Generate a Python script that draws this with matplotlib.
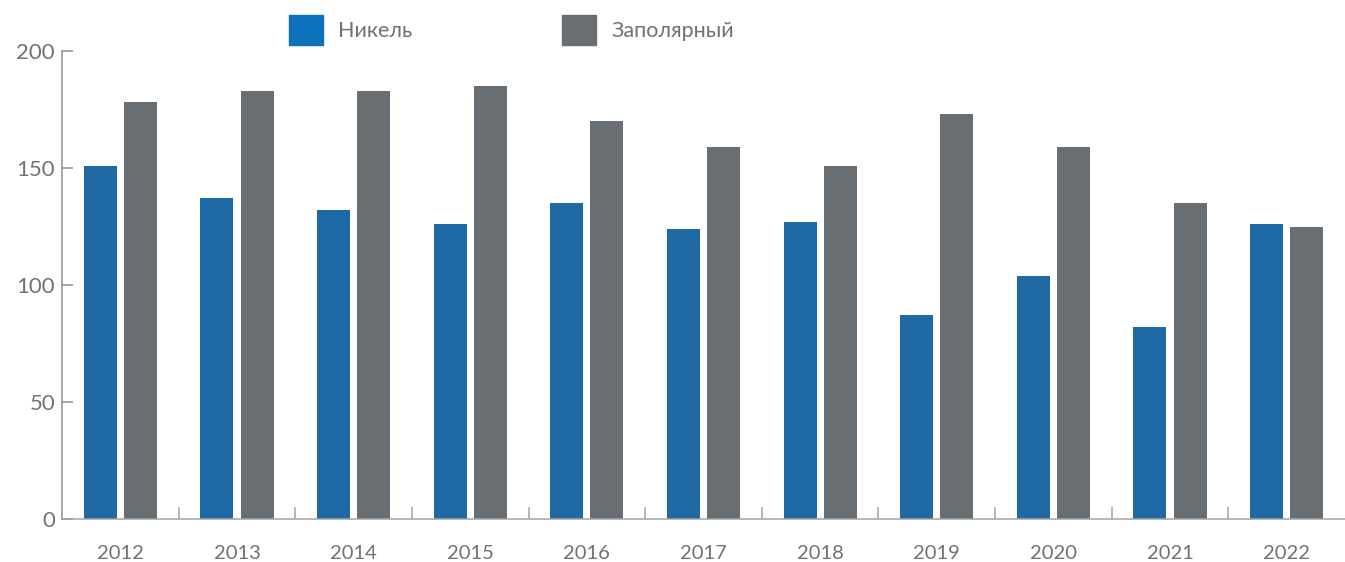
import matplotlib.pyplot as plt
import matplotlib.patches as patch
import numpy as np

# chart data
years = ["2012", "2013", "2014", "2015", "2016", "2017", "2018", "2019", "2020", "2021", "2022"]
nickel = [151, 137, 132, 126, 135, 124, 127, 87, 104, 82, 126]
zapolyarny = [178, 183, 183, 185, 170, 159, 151, 173, 159, 135, 125]
series_names = ["Никель", "Заполярный"]
yticks = [0, 50, 100, 150, 200]

blue = '#1f6aa5'
blue_legend = '#0d72bb'
grey = '#686e71'
text_grey = '#6d7377'

plt.rcParams['font.family'] = ['Lato', 'DejaVu Sans']

fig = plt.figure(figsize=(13.45, 5.62), dpi=100)
ax = fig.add_axes([62 / 1345, 43 / 562, 1283 / 1345, 468 / 562])

x = np.arange(len(years))
width = 0.283
offset = 0.172
ax.bar(x - offset, nickel, width=width, color=blue)
ax.bar(x + offset, zapolyarny, width=width, color=grey)

ax.set_xlim(-0.5, len(years) - 0.5)
ax.set_ylim(0, 200)

# spines
for side in ['top', 'right']:
    ax.spines[side].set_visible(False)
ax.spines['left'].set_color('#8a8f92')
ax.spines['bottom'].set_color('#a0a4a6')
ax.spines['left'].set_linewidth(1.1)
ax.spines['bottom'].set_linewidth(1.1)

# y ticks point inward
ax.set_yticks(yticks)
ax.tick_params(axis='y', direction='in', length=8, width=1.1, color='#8a8f92',
               labelsize=16, labelcolor=text_grey, pad=5)

# x labels at centers, small tick marks between years
ax.set_xticks(x)
ax.set_xticklabels(years)
ax.tick_params(axis='x', length=0, labelsize=14.5, labelcolor=text_grey, pad=19)
ax.set_xticks(x[:-1] + 0.5, minor=True)
ax.tick_params(axis='x', which='minor', direction='in', length=9, width=1.1, color='#a0a4a6')

# legend on top
handles = [patch.Patch(color=blue_legend, label=series_names[0]),
           patch.Patch(color=grey, label=series_names[1])]
fig.legend(handles=handles, loc='upper left', bbox_to_anchor=(270 / 1345, 1 + 4 / 562),
           ncol=2, frameon=False, fontsize=15.5, labelcolor=text_grey,
           handlelength=1.58, handleheight=1.75, handletextpad=0.7, columnspacing=6.95)

fig.savefig('out.png', dpi=100)
